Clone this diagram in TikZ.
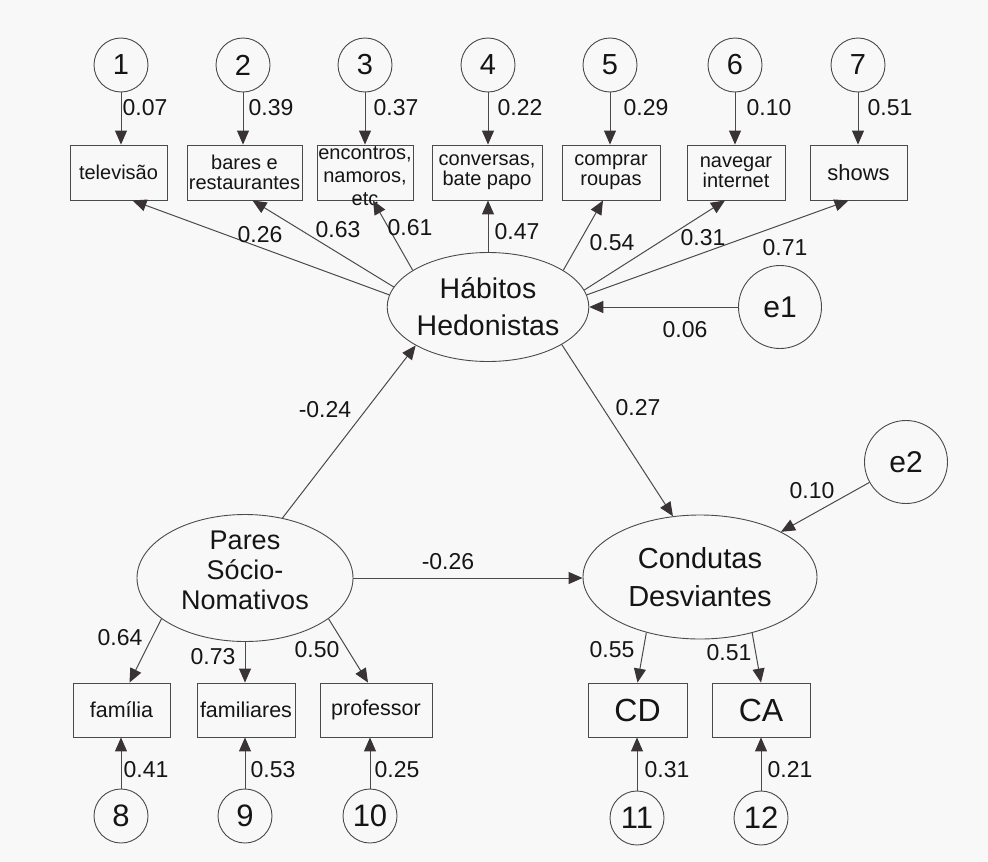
\documentclass[tikz,border=0pt]{standalone}
\usepackage{fontspec}
\setmainfont{Liberation Sans}
\usetikzlibrary{arrows.meta,shapes.geometric,calc}
\definecolor{linec}{HTML}{4A4A4A}
\definecolor{headc}{HTML}{3A3335}
\definecolor{txtc}{HTML}{151515}
\definecolor{bgc}{HTML}{F8F8F8}
\newcommand{\fsz}[1]{\fontsize{#1}{#1}\selectfont}
\begin{document}
\begin{tikzpicture}[x=1pt,y=-1pt,
  lat/.style={circle,draw=linec,line width=0.9pt,minimum size=54pt,inner sep=0pt,font=\fsz{29},text=txtc},
  latb/.style={lat,font=\fsz{31}},
  err/.style={circle,draw=linec,line width=0.9pt,minimum size=83pt,inner sep=0pt,font=\fsz{30},text=txtc},
  obs/.style={rectangle,draw=linec,line width=0.9pt,minimum height=55pt,inner sep=0pt,align=center,text=txtc,font=\fontsize{20}{20}\selectfont},
  obsb/.style={obs,minimum height=54pt,font=\fsz{21.5}},
  fac/.style={ellipse,draw=linec,line width=0.9pt,inner sep=0pt,align=center,text=txtc},
  txt/.style={inner sep=0pt,align=center,text=txtc},
  arr/.style={draw=linec,line width=1pt,-{Triangle[length=14pt,width=12pt,color=headc]}},
  num/.style={font=\fsz{23},text=txtc,inner sep=0pt},
]
\fill[bgc] (0,0) rectangle (988,862);
\useasboundingbox (0,0) rectangle (988,862);

% top error circles
\node[lat] (c1) at (121,65) {1};
\node[lat] (c2) at (243,65) {2};
\node[lat] (c3) at (365,65) {3};
\node[lat] (c4) at (488,65) {4};
\node[lat] (c5) at (610,65) {5};
\node[lat] (c6) at (735,65) {6};
\node[lat] (c7) at (858,65) {7};

% top boxes
\node[obs,minimum width=97pt] (b1) at (118.5,172.5) {televisão};
\node[obs,minimum width=115pt] (b2) at (244.5,172.5) {bares e\\restaurantes};
\node[obs,minimum width=96pt] (b3) at (365,172.5) {};
\node[txt,font=\fontsize{20}{23}\selectfont] (t3) at (365,176) {encontros,\\namoros,\\etc};
\node[obs,minimum width=110pt] (b4) at (487,172.5) {conversas,\\bate papo};
\node[obs,minimum width=98pt] (b5) at (611,172.5) {comprar\\roupas};
\node[obs,minimum width=98pt] (b6) at (736,172.5) {navegar\\internet};
\node[obs,minimum width=97pt,font=\fsz{22}] (b7) at (858.5,172.5) {shows};

% latent factors
\node[fac,minimum width=194pt,minimum height=109pt,font=\fontsize{28.5}{37}\selectfont] (HH) at (488,307) {Hábitos\\Hedonistas};
\node[fac,minimum width=216pt,minimum height=127pt] (P) at (245,578) {};
\node[txt,font=\fontsize{27}{30}\selectfont] (Pt) at (245,570) {Pares\\Sócio-\\Nomativos};
\node[fac,minimum width=234pt,minimum height=124pt,font=\fontsize{29}{38}\selectfont] (CD) at (700,577) {Condutas\\Desviantes};

% disturbances
\node[err] (e1) at (780,307) {e1};
\node[err] (e2) at (906,462) {e2};

% bottom boxes
\node[obsb,minimum width=97pt] (fam) at (121.5,710) {família};
\node[obsb,minimum width=98pt] (fams) at (246,710) {familiares};
\node[obsb,minimum width=112pt] (prof) at (376,710) {professor};
\node[obsb,minimum width=99pt,font=\fsz{32}] (bCD) at (637.5,710) {CD};
\node[obsb,minimum width=98pt,font=\fsz{32}] (bCA) at (761,710) {CA};

% bottom error circles
\node[latb] (c8) at (121,816) {8};
\node[latb] (c9) at (245,816) {9};
\node[latb] (c10) at (370,816) {10};
\node[latb] (c11) at (637,818) {11};
\node[latb] (c12) at (761,818) {12};

% arrows: top errors -> boxes
\draw[arr] (c1) -- (c1 |- b1.north);
\draw[arr] (c2) -- (c2 |- b2.north);
\draw[arr] (c3) -- (c3 |- b3.north);
\draw[arr] (c4) -- (c4 |- b4.north);
\draw[arr] (c5) -- (c5 |- b5.north);
\draw[arr] (c6) -- (c6 |- b6.north);
\draw[arr] (c7) -- (c7 |- b7.north);

% HH -> indicators
\draw[arr] (HH.173) -- ($(b1.south)+(14,0)$);
\draw[arr] (HH.168) -- ($(b2.south)+(8,0)$);
\draw[arr] (HH.154) -- ($(b3.south)+(8,0)$);
\draw[arr] (HH.north) -- (HH.north |- b4.south);
\draw[arr] (HH.26) -- ($(b5.south)+(-8,0)$);
\draw[arr] (HH.10) -- ($(b6.south)+(-11,0)$);
\draw[arr] (HH.7) -- ($(b7.south)+(-10,0)$);

% structural paths
\draw[arr] (e1) -- (HH);
\draw[arr] (P.58) -- (HH.208);
\draw[arr] (HH.333) -- (CD.114);
\draw[arr] (P.east) -- (P.east -| CD.west);
\draw[arr] (e2) -- (CD);

% P -> indicators
\draw[arr] (P.206) -- ($(fam.north)+(8,0)$);
\draw[arr] (P.south) -- (P.south |- fams.north);
\draw[arr] (P.334) -- ($(prof.north)+(-8,0)$);

% CD -> indicators
\draw[arr] (CD.226) -- (bCD.north);
\draw[arr] (CD.313) -- (bCA.north);

% bottom errors -> boxes
\draw[arr] (c8) -- (c8 |- fam.south);
\draw[arr] (c9) -- (c9 |- fams.south);
\draw[arr] (c10) -- (c10 |- prof.south);
\draw[arr] (c11) -- (c11 |- bCD.south);
\draw[arr] (c12) -- (c12 |- bCA.south);

% labels
\node[num] (n1) at (145,108) {0.07};
\node[num] (n2) at (271,108) {0.39};
\node[num] (n3) at (396,108) {0.37};
\node[num] (n4) at (520,108) {0.22};
\node[num] (n5) at (646,108) {0.29};
\node[num] (n6) at (769,108) {0.10};
\node[num] (n7) at (890,108) {0.51};
\node[num] (l1) at (260,235) {0.26};
\node[num] (l2) at (338,230) {0.63};
\node[num] (l3) at (410,228) {0.61};
\node[num] (l4) at (517,232) {0.47};
\node[num] (l5) at (612,243) {0.54};
\node[num] (l6) at (703,238) {0.31};
\node[num] (l7) at (785,248) {0.71};
\node[num] (le1) at (685,330) {0.06};
\node[num] (s1) at (325,410) {-0.24};
\node[num] (s2) at (638,408) {0.27};
\node[num] (le2) at (812,491) {0.10};
\node[num] (s3) at (448,562) {-0.26};
\node[num] (p1) at (120,638) {0.64};
\node[num] (p2) at (213,657) {0.73};
\node[num] (p3) at (317,650) {0.50};
\node[num] (n8) at (146,770) {0.41};
\node[num] (n9) at (273,770) {0.53};
\node[num] (n10) at (397,770) {0.25};
\node[num] (d1) at (612,650) {0.55};
\node[num] (d2) at (729,653) {0.51};
\node[num] (n11) at (667,770) {0.31};
\node[num] (n12) at (790,770) {0.21};
\end{tikzpicture}
\end{document}
